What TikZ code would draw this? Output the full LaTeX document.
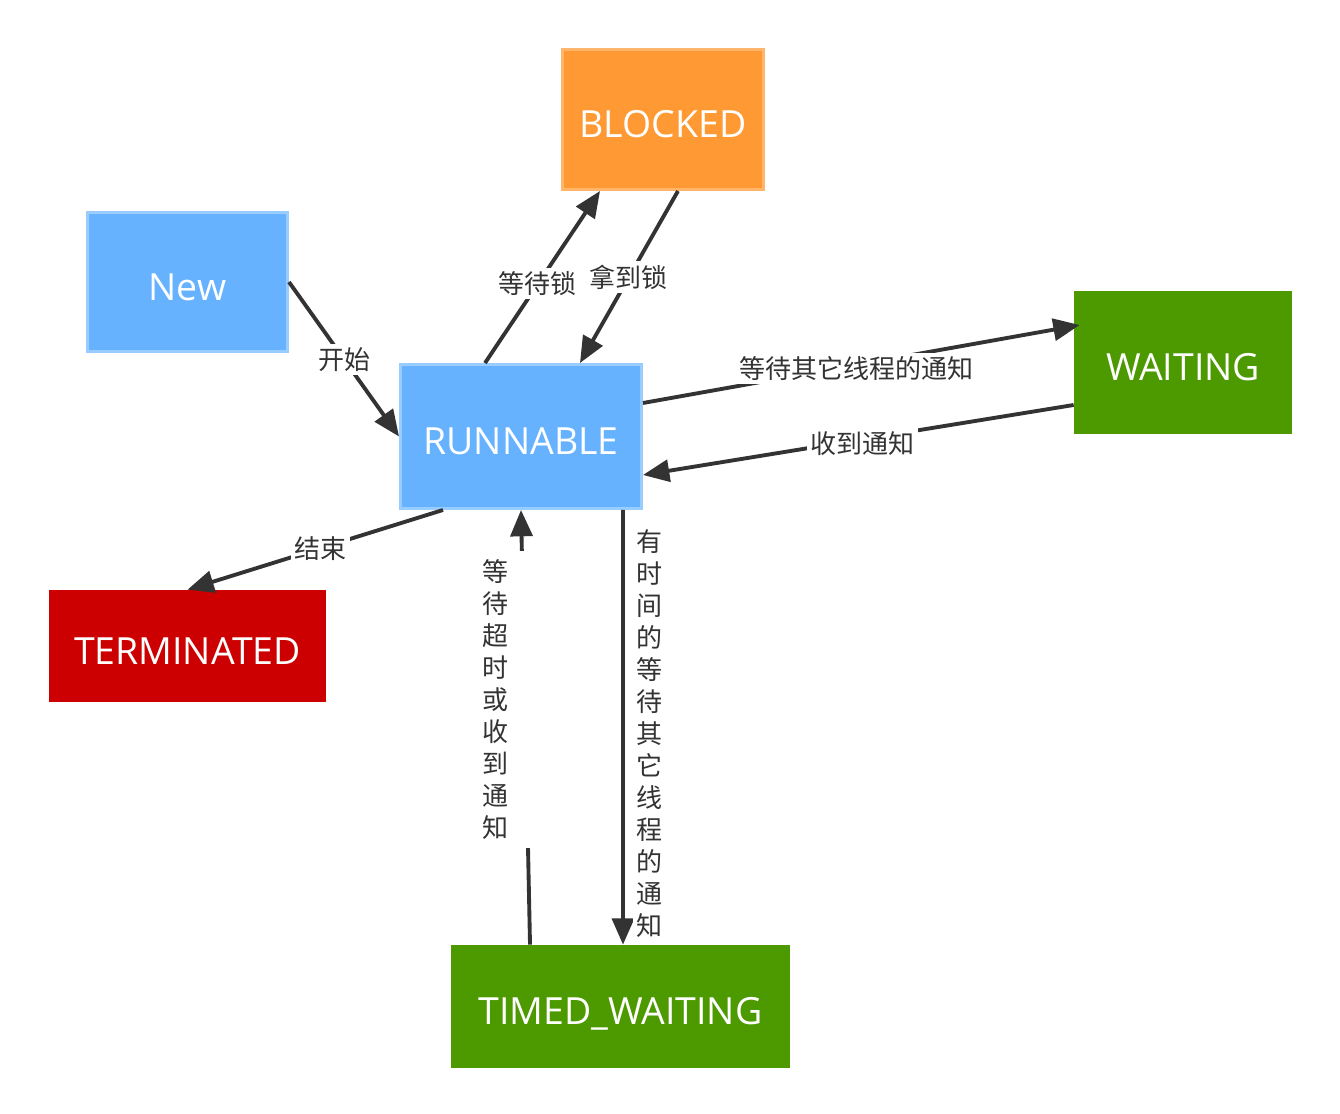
\documentclass[tikz,border=0pt]{standalone}
\usepackage{fontspec}
\setmainfont{Open Sans}
\newfontfamily\cjk{Noto Sans CJK SC}
\usetikzlibrary{arrows.meta}
\definecolor{runblue}{RGB}{102,178,255}
\definecolor{runedge}{RGB}{153,204,255}
\definecolor{lockorange}{RGB}{255,153,51}
\definecolor{lockedge}{RGB}{255,181,106}
\definecolor{waitgreen}{RGB}{77,153,0}
\definecolor{endred}{RGB}{204,0,0}
\definecolor{arrowgray}{RGB}{51,51,51}

\begin{document}
\begin{tikzpicture}[x=0.02cm, y=-0.02cm,
        state/.style={font=\fontsize{21.3}{25}\selectfont, text=white, inner sep=0pt, text height=20.9pt, text depth=0pt},
        bluestate/.style={state, fill=runblue, draw=runedge, line width=1.7pt},
        orangestate/.style={state, fill=lockorange, draw=lockedge, line width=1.7pt},
        greenstate/.style={state, fill=waitgreen},
        redstate/.style={state, fill=endred},
        trans/.style={draw=arrowgray, line width=2.2pt, -{Triangle[length=15pt, width=12.5pt]}},
        lbl/.style={font=\cjk\fontsize{14.8}{18.2}\selectfont, text=arrowgray, fill=white, inner sep=2pt, align=center}]
        \useasboundingbox (0,0) rectangle (1340,1114);
        \node [bluestate, minimum width=4cm, minimum height=2.78cm] (new) at (187.5,282) {New};
        \node [orangestate, minimum width=4.02cm, minimum height=2.8cm] (blocked) at (663,119.5) {BLOCKED};
        \node [bluestate, minimum width=4.82cm, minimum height=2.88cm] (runnable) at (521,436.5) {RUNNABLE};
        \node [greenstate, minimum width=4.36cm, minimum height=2.86cm] (waiting) at (1183,362.5) {WAITING};
        \node [redstate, minimum width=5.54cm, minimum height=2.24cm] (terminated) at (187.5,646) {TERMINATED};
        \node [greenstate, minimum width=6.78cm, minimum height=2.46cm] (timed) at (620.5,1006.5) {TIMED\_WAITING};
        \draw [trans] (new.east) -- node [lbl] {开始} (runnable.west);
        \draw [trans] ([xshift=-0.72cm]runnable.north) -- node [lbl, pos=0.46] {等待锁} ([xshift=-1.26cm]blocked.south);
        \draw [trans] ([xshift=0.3cm]blocked.south) -- node [lbl] {拿到锁} ([xshift=1.18cm]runnable.north);
        \draw [trans] ([yshift=0.67cm]runnable.east) -- node [lbl, pos=0.49, yshift=-0.08cm] {等待其它线程的通知} ([xshift=0.12cm, yshift=0.75cm]waiting.west);
        \draw [trans] ([yshift=-0.85cm]waiting.west) -- node [lbl, pos=0.49, yshift=-0.08cm] {收到通知} ([yshift=-0.77cm]runnable.east);
        \draw [trans] ([xshift=-1.56cm]runnable.south) -- node [lbl, pos=0.48] {结束} (terminated.north);
        \draw [trans] ([xshift=-1.81cm]timed.north) -- node [lbl, pos=0.564, xshift=-0.58cm, inner xsep=12pt, inner ysep=5pt] {等\\待\\超\\时\\或\\收\\到\\通\\知} (runnable.south);
        \draw [trans] ([xshift=2.04cm]runnable.south) -- node [lbl, pos=0.515, xshift=0.53cm] {有\\时\\间\\的\\等\\待\\其\\它\\线\\程\\的\\通\\知} ([xshift=0.05cm]timed.north);
    \end{tikzpicture}
\end{document}
